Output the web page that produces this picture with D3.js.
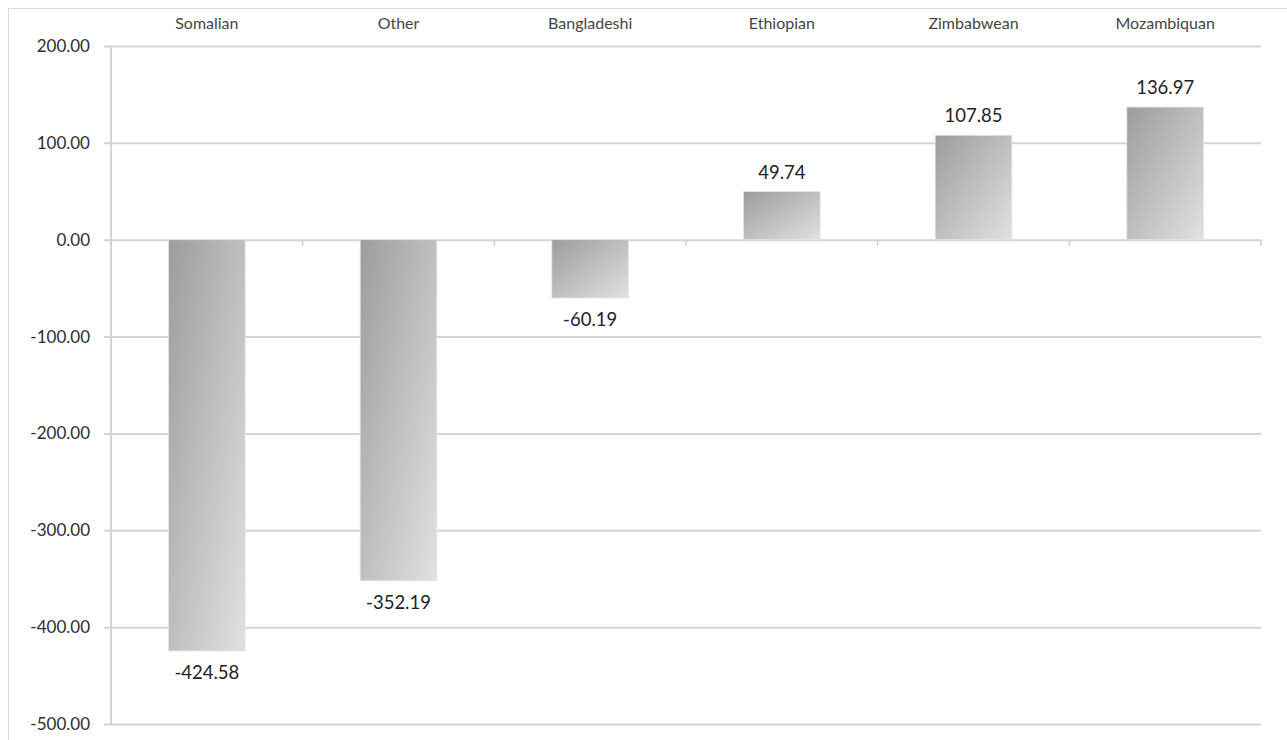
<!DOCTYPE html>
<html>
<head>
<meta charset="utf-8">
<script src="https://cdn.jsdelivr.net/npm/d3@7/dist/d3.min.js"></script>
<style>
  html, body { margin: 0; padding: 0; background: #fff; }
  svg { display: block; }
</style>
</head>
<body>
<svg id="chart" width="1287" height="740"></svg>
<script>
const categories = ["Somalian", "Other", "Bangladeshi", "Ethiopian", "Zimbabwean", "Mozambiquan"];
const values = [-424.58, -352.19, -60.19, 49.74, 107.85, 136.97];
const yTicks = [200, 100, 0, -100, -200, -300, -400, -500];

const W = 1287, H = 740;
const svg = d3.select("#chart");
const plot = { left: 111, right: 1261, top: 46, bottom: 724 };

const x = d3.scaleBand().domain(categories).range([plot.left, plot.right]).paddingInner(0.6).paddingOuter(0.3);
const y = d3.scaleLinear().domain([-500, 200]).range([plot.bottom, plot.top]);
const loc = d3.formatLocale({ decimal: ".", thousands: ",", grouping: [3], currency: ["", ""], minus: "-" });
const fmt = loc.format(".2f");
const FONT = "Lato, 'Open Sans', sans-serif";

// gradient
const defs = svg.append("defs");
const grad = defs.append("linearGradient").attr("id", "barGrad")
  .attr("x1", 0).attr("y1", 0).attr("x2", 1).attr("y2", 1);
grad.append("stop").attr("offset", "0%").attr("stop-color", "#9c9c9c");
grad.append("stop").attr("offset", "100%").attr("stop-color", "#e1e1e1");

// outer border
svg.append("rect").attr("x", 8.5).attr("y", 8.5).attr("width", W).attr("height", H)
  .attr("fill", "none").attr("stroke", "#d9d9d9").attr("stroke-width", 1);

// y axis with gridlines
const yAxis = d3.axisLeft(y).tickValues(yTicks).tickFormat(fmt)
  .tickSize(-(plot.right - plot.left)).tickPadding(0);
const gy = svg.append("g").attr("transform", `translate(${plot.left},0)`).call(yAxis);
gy.select(".domain").remove();
gy.selectAll(".tick line").attr("stroke", "#d4d4d4").attr("stroke-width", 2).attr("x2", plot.right - plot.left).attr("x1", -7);
gy.selectAll(".tick text").attr("x", -21).attr("font-family", FONT).attr("font-size", 17).attr("fill", "#2e2e2e");

// y axis line
svg.append("line").attr("x1", plot.left).attr("x2", plot.left).attr("y1", plot.top).attr("y2", plot.bottom)
  .attr("stroke", "#d4d4d4").attr("stroke-width", 2);

// zero-line category ticks
const catBoundaries = d3.range(categories.length + 1).map(i => plot.left + i * x.step());
svg.append("g").selectAll("line").data(catBoundaries).join("line")
  .attr("x1", d => d).attr("x2", d => d).attr("y1", y(0)).attr("y2", y(0) + 6)
  .attr("stroke", "#cfcfcf").attr("stroke-width", 1.5);

// category labels at top (x axis at top)
const xAxis = d3.axisTop(x).tickSize(0).tickPadding(0);
const gx = svg.append("g").attr("transform", `translate(0,29)`).call(xAxis);
gx.select(".domain").remove();
gx.selectAll(".tick text").attr("font-family", FONT).attr("font-size", 16).attr("fill", "#454545");

// bars
svg.append("g").selectAll("rect").data(values).join("rect")
  .attr("x", (d, i) => x(categories[i]))
  .attr("width", x.bandwidth())
  .attr("y", d => y(Math.max(0, d)))
  .attr("height", d => Math.abs(y(d) - y(0)))
  .attr("fill", "url(#barGrad)")
  .attr("stroke", "#e6e6e6").attr("stroke-width", 0.8);

// data labels
svg.append("g").selectAll("text").data(values).join("text")
  .attr("x", (d, i) => x(categories[i]) + x.bandwidth() / 2)
  .attr("y", d => d >= 0 ? y(d) - 13 : y(d) + 28)
  .attr("text-anchor", "middle")
  .attr("font-family", FONT).attr("font-size", 18.5).attr("fill", "#222")
  .text(d => fmt(d));
</script>
</body>
</html>
